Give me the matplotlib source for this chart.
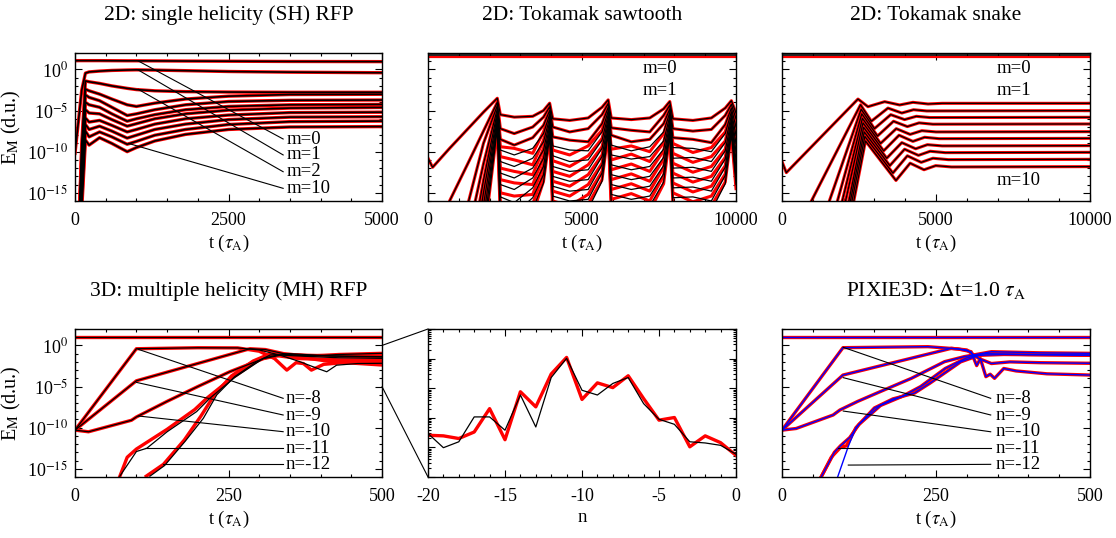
import numpy as np
import matplotlib
matplotlib.use('Agg')
from matplotlib import pyplot as plt
from matplotlib.patches import ConnectionPatch
from matplotlib.ticker import FixedLocator, MultipleLocator, NullFormatter, FuncFormatter, LogLocator

plt.rcParams['font.family'] = ['Liberation Serif', 'DejaVu Serif']
plt.rcParams['mathtext.fontset'] = 'stix'
plt.rcParams['axes.unicode_minus'] = False

# ---- 2D single helicity RFP: log10(E_M) per mode m=0..10 on a shared time grid
sh_t = [0, 60, 110, 170, 230, 400, 600, 850, 1000, 1300, 1800, 2500, 3500, 5000]
sh_logE = [
    [1.07, 1.07, 1.07, 1.07, 1.07, 1.07, 1.06, 1.05, 1.05, 1.04, 1.02, 1.00, 0.97, 0.95],
    [-10.2, -6.0, -2.5, -0.45, -0.30, -0.20, -0.12, -0.07, -0.05, -0.08, -0.15, -0.25, -0.33, -0.40],
    [-20, -20, -9.0, -1.40, -1.50, -1.70, -2.00, -2.30, -2.45, -2.60, -2.70, -2.75, -2.78, -2.78],
    [-20, -20, -10.0, -2.40, -2.60, -3.00, -3.60, -4.30, -4.50, -4.10, -3.60, -3.25, -3.05, -3.02],
    [-20, -20, -11.0, -3.10, -3.40, -3.80, -4.60, -5.60, -5.40, -4.90, -4.30, -3.90, -3.75, -3.72],
    [-20, -20, -12.0, -4.00, -4.30, -4.60, -5.40, -6.30, -6.00, -5.50, -4.90, -4.50, -4.30, -4.25],
    [-20, -20, -13.0, -4.90, -5.30, -5.40, -6.10, -6.90, -6.60, -6.00, -5.40, -4.95, -4.70, -4.62],
    [-20, -20, -14.0, -5.90, -6.40, -6.20, -6.80, -7.60, -7.30, -6.65, -6.00, -5.55, -5.25, -5.20],
    [-20, -20, -15.0, -6.70, -7.30, -6.90, -7.50, -8.35, -8.00, -7.30, -6.65, -6.10, -5.80, -5.75],
    [-20, -20, -16.0, -7.50, -8.20, -7.60, -8.20, -9.10, -8.75, -8.00, -7.30, -6.70, -6.35, -6.28],
    [-20, -20, -17.0, -8.60, -9.20, -8.30, -9.00, -10.0, -9.50, -8.70, -7.90, -7.30, -7.00, -6.95],
]
sh_labels = ['m=0', 'm=1', 'm=2', 'm=10']
sh_leader_start = [(1031, 1.03), (1031, -0.07), (1031, -2.42), (868, -8.99)]
sh_leader_end = [-8.46, -10.4, -12.44, -14.46]

# ---- 2D tokamak sawtooth
saw_t = [0, 150, 700, 1300, 1800, 2250, 2350, 2800, 3400, 3750, 3950, 4050, 4600, 5200, 5650,
         5850, 5950, 6600, 7200, 7650, 7850, 7950, 8600, 9200, 9650, 9850, 10000]
saw_m0_black = 1.76
saw_m0_red = 1.55
saw_logE = [
    [-10.8, -11.9, -9.6, -7.2, -5.2, -3.5, -5.5, -5.8, -5.7, -5.0, -4.1, -6.0, -6.2, -5.9, -4.6,
     -3.7, -5.9, -6.1, -5.9, -4.8, -3.9, -6.0, -6.2, -5.9, -4.7, -3.8, -5.3],
    [-30, -27, -16, -11.4, -7.5, -4.0, -7.2, -7.8, -7.0, -5.8, -4.55, -7.0, -7.6, -7.2, -5.5,
     -4.15, -7.1, -7.4, -7.6, -5.6, -4.35, -7.2, -7.5, -7.3, -5.6, -4.25, -6.0],
    [-35, -32, -22, -16.3, -9.0, -4.4, -8.5, -9.2, -8.3, -6.8, -5.0, -8.2, -8.6, -8.8, -6.6,
     -4.6, -8.0, -8.8, -8.5, -6.6, -4.8, -8.3, -8.5, -8.9, -6.7, -4.7, -7.0],
    [-40, -36, -26, -20, -11.5, -4.8, -9.8, -10.4, -9.6, -7.8, -5.45, -9.3, -9.8, -9.9, -7.6,
     -5.05, -9.2, -9.9, -9.4, -7.6, -5.25, -9.5, -9.6, -10.0, -7.8, -5.15, -8.0],
    [-45, -40, -30, -24, -13.5, -5.2, -11.2, -11.8, -10.8, -8.8, -5.9, -10.5, -11.2, -11.0, -8.6,
     -5.5, -10.4, -10.9, -10.6, -8.7, -5.7, -10.8, -10.7, -11.2, -8.9, -5.6, -9.0],
    [-50, -45, -34, -27, -15.0, -5.6, -12.6, -13.2, -12.0, -9.8, -6.35, -11.8, -12.4, -12.2, -9.6,
     -5.95, -11.6, -12.2, -11.8, -9.7, -6.15, -12.0, -11.9, -12.4, -9.9, -6.05, -10.0],
    [-55, -50, -38, -30, -16.5, -6.0, -14.0, -14.6, -13.2, -10.8, -6.8, -13.0, -13.6, -13.4, -10.6,
     -6.4, -12.8, -13.4, -13.0, -10.7, -6.6, -13.2, -13.1, -13.6, -10.9, -6.5, -11.0],
    [-60, -54, -42, -33, -18.0, -6.4, -15.5, -16.2, -14.4, -11.8, -7.25, -14.2, -14.8, -14.6, -11.6,
     -6.85, -14.0, -14.6, -14.2, -11.7, -7.05, -14.4, -14.3, -14.8, -11.9, -6.95, -12.0],
    [-65, -58, -46, -36, -19.5, -6.8, -17.0, -17.6, -15.6, -12.8, -7.7, -15.4, -16.0, -15.8, -12.6,
     -7.3, -15.2, -15.8, -15.4, -12.7, -7.5, -15.6, -15.5, -16.0, -12.9, -7.4, -13.0],
    [-70, -62, -50, -40, -21.0, -7.2, -18.5, -19.0, -17.0, -13.8, -8.15, -16.6, -17.2, -17.0, -13.6,
     -7.75, -16.4, -17.0, -16.6, -13.7, -7.95, -16.8, -16.7, -17.2, -13.9, -7.85, -14.0],
]
saw_logE_red = saw_logE[:3] + [
    [-40, -36, -26, -20, -11.5, -4.8, -9.4, -9.6, -10.2, -7.6, -5.45, -9.8, -10.4, -9.3, -7.4,
     -5.05, -9.7, -9.3, -10.0, -7.8, -5.25, -9.0, -10.1, -9.5, -7.6, -5.15, -8.4],
    [-45, -40, -30, -24, -13.5, -5.2, -10.6, -11.0, -11.6, -8.6, -5.9, -11.1, -11.8, -10.5, -8.4,
     -5.5, -11.0, -10.3, -11.2, -8.9, -5.7, -10.2, -11.3, -10.6, -8.7, -5.6, -9.4],
    [-50, -45, -34, -27, -15.0, -5.6, -12.0, -12.4, -12.8, -9.6, -6.35, -12.4, -13.0, -11.6, -9.4,
     -5.95, -12.2, -11.5, -12.4, -9.9, -6.15, -11.4, -12.5, -11.8, -9.7, -6.05, -10.4],
    [-55, -50, -38, -30, -16.5, -6.0, -13.4, -13.8, -14.0, -10.6, -6.8, -13.6, -14.2, -12.8, -10.4,
     -6.4, -13.4, -12.7, -13.6, -10.9, -6.6, -12.6, -13.7, -13.0, -10.7, -6.5, -11.5],
    [-60, -54, -42, -33, -18.0, -6.4, -15.0, -15.4, -15.2, -11.6, -7.25, -14.8, -15.4, -14.0, -11.4,
     -6.85, -14.6, -13.9, -14.8, -11.9, -7.05, -13.8, -14.9, -14.2, -11.7, -6.95, -12.5],
    [-65, -58, -46, -36, -19.5, -6.8, -16.5, -17.0, -16.4, -12.6, -7.7, -16.0, -16.6, -15.2, -12.4,
     -7.3, -15.8, -15.1, -16.0, -12.9, -7.5, -15.0, -16.1, -15.4, -12.7, -7.4, -13.5],
    [-70, -62, -50, -40, -21.0, -7.2, -18.0, -18.4, -17.6, -13.6, -8.15, -17.2, -17.8, -16.4, -13.4,
     -7.75, -17.0, -16.3, -17.2, -13.9, -7.95, -16.2, -17.3, -16.6, -13.7, -7.85, -14.5],
]

# ---- 2D tokamak snake (each mode on its own time points)
snake_t = [
    [0, 140, 2467, 2790, 3333, 3820, 4252, 4740, 5200, 10000],
    [900, 2550, 2900, 3440, 3890, 4270, 4700, 10000],
    [1500, 2570, 3000, 3530, 3980, 4360, 4800, 10000],
    [1770, 2590, 3100, 3620, 4070, 4450, 4900, 10000],
    [1930, 2610, 3200, 3710, 4160, 4540, 5000, 10000],
    [2040, 2630, 3300, 3800, 4250, 4630, 5100, 10000],
    [2150, 2650, 3400, 3890, 4340, 4720, 5200, 10000],
    [2200, 2670, 3500, 3980, 4430, 4810, 5300, 10000],
    [2250, 2690, 3600, 4070, 4520, 4900, 5400, 10000],
    [2310, 2710, 3700, 4160, 4610, 4990, 5500, 10000],
]
snake_logE = [
    [-11.2, -12.55, -3.6, -4.53, -3.92, -4.32, -4.0, -4.2, -4.12, -4.12],
    [-16.4, -4.3, -6.3, -4.7, -5.3, -4.9, -5.05, -5.01],
    [-16.4, -4.85, -7.2, -5.5, -6.1, -5.7, -5.85, -5.82],
    [-16.4, -5.4, -8.1, -6.3, -6.95, -6.5, -6.66, -6.63],
    [-16.4, -5.95, -9.0, -7.2, -7.9, -7.45, -7.6, -7.57],
    [-16.4, -6.5, -9.9, -8.0, -8.75, -8.25, -8.42, -8.38],
    [-16.4, -7.05, -10.8, -8.9, -9.65, -9.15, -9.3, -9.27],
    [-16.4, -7.6, -11.7, -9.7, -10.45, -9.95, -10.12, -10.08],
    [-16.4, -8.15, -12.6, -10.5, -11.3, -10.8, -10.97, -10.93],
    [-16.4, -8.7, -13.5, -11.4, -12.2, -11.7, -11.86, -11.82],
]

# ---- 3D multiple helicity RFP: top curve, then n=-8..-12
mh_t = [
    [0, 500],
    [0, 100, 200, 265, 300, 335, 366, 395, 410, 426, 460, 500],
    [0, 100, 285, 310, 340, 380, 430, 500],
    [0, 22, 92, 100, 150, 200, 252, 307, 340, 380, 440, 500],
    [73, 100, 117, 150, 198, 220, 260, 307, 330, 370, 430, 500],
    [122, 146, 180, 209, 231, 260, 296, 318, 350, 420, 500],
]
mh_logE = [
    [1.07, 1.07],
    [-10.3, -0.4, -0.28, -0.3, -0.55, -1.2, -1.97, -2.8, -3.2, -2.4, -2.2, -2.17],
    [-10.3, -4.3, -0.4, -0.5, -1.0, -1.3, -1.1, -0.96],
    [-10.3, -10.5, -9.1, -8.7, -6.8, -5.0, -3.2, -1.6, -1.1, -1.2, -1.3, -1.36],
    [-15.9, -12.9, -12.5, -10.5, -8.05, -6.4, -3.9, -1.57, -1.16, -1.3, -1.5, -1.57],
    [-15.9, -14.6, -11.6, -8.86, -6.0, -3.8, -1.97, -1.16, -1.0, -1.3, -1.4],
]
mh_t_red = [
    [0, 500],
    [0, 100, 200, 265, 300, 325, 345, 360, 372, 385, 405, 450, 500],
    [0, 100, 285, 310, 340, 380, 430, 500],
    [0, 22, 92, 100, 150, 200, 252, 307, 340, 380, 440, 500],
    [70, 85, 100, 150, 195, 215, 255, 300, 325, 365, 430, 500],
    [116, 144, 178, 205, 228, 255, 290, 315, 345, 420, 500],
]
mh_logE_red = [
    [1.07, 1.07],
    [-10.3, -0.4, -0.28, -0.3, -0.7, -1.6, -3.0, -2.1, -2.2, -3.0, -2.3, -2.0, -1.97],
    [-10.3, -4.3, -0.4, -0.5, -1.0, -1.3, -1.1, -0.96],
    [-10.3, -10.5, -9.1, -8.7, -6.8, -5.0, -3.2, -1.6, -1.1, -1.2, -1.3, -1.36],
    [-16.5, -13.6, -12.6, -10.2, -7.8, -6.4, -4.0, -1.7, -1.2, -1.6, -1.75, -1.77],
    [-15.9, -14.46, -11.5, -8.6, -5.9, -3.7, -1.9, -1.1, -1.2, -2.0, -2.38],
]
mh_labels = ['n=-8', 'n=-9', 'n=-10', 'n=-11', 'n=-12']
mh_leader_start = [(103, -0.47), (100, -4.49), (103, -8.58), (114, -12.5), (144, -14.46)]
mh_leader_end = [-6.43, -8.46, -10.49, -12.5, -14.46]

# ---- spectrum vs toroidal mode number n (log10 E_M)
spec_n = list(range(-20, 1))
spec_black = [-3.53, -4.01, -3.81, -2.97, -2.97, -3.42, -2.23, -3.31, -1.64, -0.99, -2.07,
              -2.23, -1.84, -1.64, -2.52, -3.05, -3.22, -3.81, -3.85, -3.93, -4.23]
spec_red = [-3.59, -3.61, -3.70, -3.48, -2.69, -3.74, -2.12, -2.63, -1.52, -0.96, -2.38,
            -1.82, -1.98, -1.58, -2.35, -3.08, -2.99, -3.98, -3.61, -3.84, -4.27]

# ---- PIXIE3D dt=1.0: top curve, then n=-8..-12
px_t = [
    [0, 500],
    [0, 99, 237, 286, 307, 316, 322, 331, 338, 345, 360, 380, 430, 500],
    [0, 99, 275, 300, 320, 340, 370, 420, 500],
    [0, 23, 83, 94, 123, 160, 210, 264, 296, 340, 420, 500],
    [60, 85, 95, 110, 125, 160, 195, 225, 265, 300, 330, 400, 500],
    [60, 80, 95, 105, 120, 150, 180, 215, 240, 290, 320, 360, 500],
]
px_logE = [
    [1.07, 1.07],
    [-10.3, -0.27, -0.15, -0.43, -0.76, -2.45, -1.6, -3.8, -3.5, -4.0, -2.8, -3.1, -3.45, -3.6],
    [-10.3, -3.6, -0.35, -0.55, -1.6, -2.2, -2.0, -2.1, -2.17],
    [-10.3, -10.1, -8.46, -7.85, -6.8, -5.6, -4.0, -1.97, -1.36, -0.76, -0.9, -0.96],
    [-16.5, -13.0, -12.2, -11.2, -9.6, -7.3, -6.2, -5.0, -2.8, -1.5, -1.0, -1.1, -1.16],
    [-16.5, -13.6, -12.4, -12.2, -10.0, -7.6, -6.5, -5.8, -4.6, -2.0, -1.2, -1.1, -1.2],
]
px_t_blue_n12 = [88, 108, 120, 150, 180, 215, 240, 290, 320, 360, 500]
px_logE_blue_n12 = [-16.5, -12.2, -10.0, -7.6, -6.5, -5.8, -4.6, -2.0, -1.2, -1.1, -1.2]
px_leader_start = [(99.5, -0.23), (99.5, -3.92), (99.5, -7.98), (91.4, -12.5), (107.6, -14.55)]
px_leader_end = [-6.43, -8.46, -10.5, -12.5, -14.46]


def add_axes_px(fig, left, top, right, bottom):
    W, H = 1116, 538
    return fig.add_axes([left / W, 1 - bottom / H, (right - left) / W, (bottom - top) / H])


def setup_energy_axis(ax, tmax, major, minor, ylabels):
    ax.set_yscale('log')
    ax.set_ylim(1e-16, 1e2)
    ax.set_xlim(0, tmax)
    ax.yaxis.set_major_locator(FixedLocator([1e0, 1e-5, 1e-10, 1e-15]))
    ax.yaxis.set_minor_locator(FixedLocator([10.0**k for k in range(-16, 3) if k % 5]))
    ax.yaxis.set_minor_formatter(NullFormatter())
    if ylabels:
        ax.yaxis.set_major_formatter(FuncFormatter(lambda v, p: r'10$^{%d}$' % round(np.log10(v))))
        ax.set_ylabel(r'E$_{\rm M}$ (d.u.)', fontsize=14.5, labelpad=3)
    else:
        ax.yaxis.set_major_formatter(NullFormatter())
    ax.xaxis.set_major_locator(MultipleLocator(major))
    ax.xaxis.set_minor_locator(MultipleLocator(minor))
    ax.set_xlabel(r't ($\tau_{\rm A}$)', fontsize=13.5, labelpad=3)
    style_ticks(ax)


def style_ticks(ax):
    ax.tick_params(which='both', direction='in', top=True, right=True, width=0.8,
                   labelsize=13)
    ax.tick_params(which='major', length=5)
    ax.tick_params(which='minor', length=2.5)
    ax.tick_params(axis='x', pad=8)
    ax.tick_params(axis='y', pad=5)
    for sp in ax.spines.values():
        sp.set_linewidth(1.0)


def curve(ax, t, logE, color, lw):
    ax.plot(t, 10.0 ** np.asarray(logE, dtype=float), color=color, lw=lw, solid_joinstyle='round')


def leaders(ax, starts, ends, t_end, t_text, labels):
    for (t0, e0), e1, lab in zip(starts, ends, labels):
        ax.plot([t0, t_end], [10.0**e0, 10.0**e1], color='black', lw=0.8)
        ax.text(t_text, 10.0**e1, lab, fontsize=13.5, ha='left', va='center')


fig = plt.figure(figsize=(11.16, 5.38), dpi=100)
ax1 = add_axes_px(fig, 75, 53, 382, 201)
ax2 = add_axes_px(fig, 428, 53, 736, 201)
ax3 = add_axes_px(fig, 782, 53, 1090, 201)
ax4 = add_axes_px(fig, 75, 329, 382, 477)
ax5 = add_axes_px(fig, 428, 329, 736, 477)
ax6 = add_axes_px(fig, 782, 329, 1090, 477)

title_kw = dict(fontsize=15.5, pad=24)
label_kw = dict(fontsize=13.5, ha='left', va='center')

# panel 1
for logE in sh_logE:
    curve(ax1, sh_t, logE, 'red', 2.4)
for logE in sh_logE:
    curve(ax1, sh_t, logE, 'black', 1.2)
leaders(ax1, sh_leader_start, sh_leader_end, 3390, 3450, sh_labels)
setup_energy_axis(ax1, 5000, 2500, 500, True)
ax1.set_title('2D: single helicity (SH) RFP', **title_kw)

# panel 2
ax2.axhline(10.0**saw_m0_red, color='red', lw=1.6)
ax2.axhline(10.0**saw_m0_black, color='black', lw=1.2)
for logE in saw_logE_red:
    curve(ax2, saw_t, logE, 'red', 2.2)
for logE in saw_logE:
    curve(ax2, saw_t, logE, 'black', 0.9)
ax2.text(6971, 10**0.14, 'm=0', **label_kw)
ax2.text(6971, 10**-2.59, 'm=1', **label_kw)
setup_energy_axis(ax2, 10000, 5000, 1000, False)
ax2.set_title('2D: Tokamak sawtooth', **title_kw)

# panel 3
ax3.axhline(10.0**saw_m0_red, color='red', lw=1.6)
ax3.axhline(10.0**saw_m0_black, color='black', lw=1.2)
for t, logE in zip(snake_t, snake_logE):
    curve(ax3, t, logE, 'red', 2.2)
for t, logE in zip(snake_t, snake_logE):
    curve(ax3, t, logE, 'black', 0.9)
ax3.text(6980, 10**0.14, 'm=0', **label_kw)
ax3.text(6980, 10**-2.59, 'm=1', **label_kw)
ax3.text(6980, 10**-13.45, 'm=10', **label_kw)
setup_energy_axis(ax3, 10000, 5000, 1000, False)
ax3.set_title('2D: Tokamak snake', **title_kw)

# panel 4
for t, logE in zip(mh_t_red, mh_logE_red):
    curve(ax4, t, logE, 'red', 2.4)
for t, logE in zip(mh_t, mh_logE):
    curve(ax4, t, logE, 'black', 0.9)
leaders(ax4, mh_leader_start, mh_leader_end, 339, 343, mh_labels)
setup_energy_axis(ax4, 500, 250, 50, True)
ax4.set_title('3D: multiple helicity (MH) RFP', **title_kw)

# panel 5
ax5.plot(spec_n, 10.0 ** np.array(spec_red), color='red', lw=2.4)
ax5.plot(spec_n, 10.0 ** np.array(spec_black), color='black', lw=0.9)
ax5.set_yscale('log')
ax5.set_ylim(1e-5, 1e0)
ax5.set_xlim(-20, 0)
ax5.yaxis.set_major_locator(LogLocator(base=10, numticks=10))
ax5.yaxis.set_minor_locator(LogLocator(base=10, subs=np.arange(2, 10), numticks=10))
ax5.yaxis.set_major_formatter(NullFormatter())
ax5.yaxis.set_minor_formatter(NullFormatter())
ax5.xaxis.set_major_locator(MultipleLocator(5))
ax5.xaxis.set_minor_locator(MultipleLocator(1))
ax5.set_xlabel('n', fontsize=13.5, labelpad=3)
style_ticks(ax5)

# panel 6
for t, logE in zip(px_t, px_logE):
    curve(ax6, t, logE, 'red', 2.4)
for t, logE in list(zip(px_t, px_logE))[:-1]:
    curve(ax6, t, logE, 'blue', 1.0)
curve(ax6, px_t_blue_n12, px_logE_blue_n12, 'blue', 1.0)
leaders(ax6, px_leader_start, px_leader_end, 338.8, 347, mh_labels)
setup_energy_axis(ax6, 500, 250, 50, False)
ax6.set_title(r'PIXIE3D: $\Delta$t=1.0 $\tau_{\rm A}$', **title_kw)

# zoom connectors from panel 4 into the spectrum panel
for level in [1e0, 1e-5]:
    con = ConnectionPatch(xyA=(500, level), coordsA=ax4.transData,
                          xyB=(-20, level), coordsB=ax5.transData,
                          color='black', lw=0.8)
    fig.add_artist(con)

fig.savefig('out.png', dpi=100)
